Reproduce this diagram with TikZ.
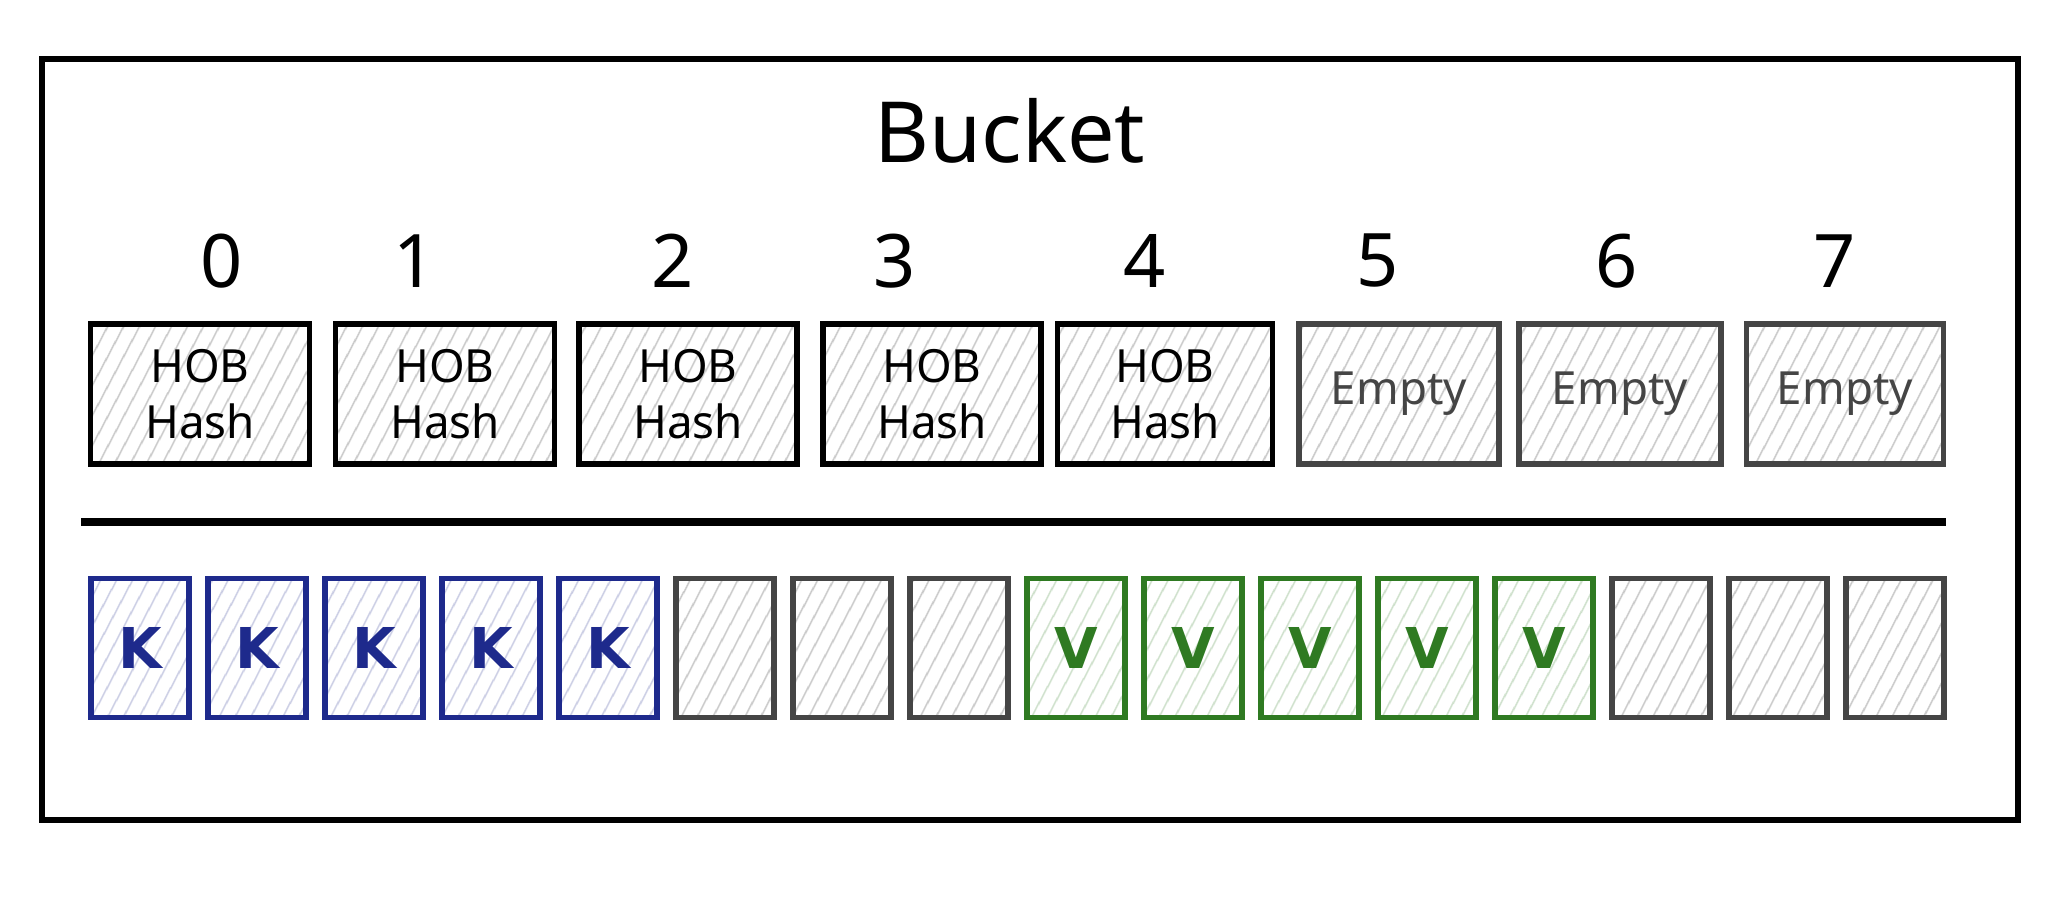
\documentclass[tikz,border=0pt]{standalone}
\usepackage{fontspec}
\setmainfont{Noto Sans}
\newfontfamily\cellfont{DejaVu Sans}
\usetikzlibrary{patterns.meta,positioning}

\definecolor{keyblue}{HTML}{1E2A8C}
\definecolor{valgreen}{HTML}{2F7A22}
\definecolor{emptygray}{HTML}{454545}

\tikzset{
  hatched/.style={pattern={Lines[angle=62,distance=4pt,line width=0.55pt]},pattern color=#1},
  hatched/.default=gray!45,
  slotbox/.style={draw, line width=1.6pt, minimum height=1.4cm, align=center,
    inner sep=0pt, font=\fontsize{13}{16}\selectfont},
  cellbox/.style={draw, line width=1.6pt, minimum width=0.98cm, minimum height=1.39cm,
    inner sep=0pt, font=\cellfont\bfseries\fontsize{16}{16}\selectfont},
  digit/.style={font=\fontsize{21}{21}\selectfont},
  title/.style={font=\fontsize{24}{24}\selectfont}
}

\begin{document}
\begin{tikzpicture}[x=0.01cm,y=-0.01cm]
  \useasboundingbox (0,0) rectangle (2048,918);

  % outer frame and title
  \draw[line width=1.9pt] (42,59) rectangle (2018,820);
  \node[title] (bucket) at (1010,131) {Bucket};

  % bucket slots
  \foreach \i/\cx/\bw in {0/200/2.19cm,1/445/2.19cm,2/688/2.18cm,3/932/2.18cm,4/1165/2.15cm}
    \node[slotbox, hatched, minimum width=\bw] (slot\i) at (\cx,394) {HOB\\Hash};
  \foreach \i/\cx/\bw in {5/1399/2.00cm,6/1620/2.02cm,7/1845/1.97cm}
    \node[slotbox, hatched, draw=emptygray, text=emptygray, minimum width=\bw] (slot\i) at (\cx,394) {Empty};

  % slot numbers
  \foreach \i/\dx in {0/222,1/415,2/673,3/895,4/1145,5/1378,6/1617,7/1835}
    \node[digit] (num\i) at (\dx,261) {\i};

  \draw[line width=2pt] (81,522) -- (1946,522);

  % keys and values
  \foreach \i in {0,...,4}
    \node[cellbox, draw=keyblue, text=keyblue, hatched=keyblue!25] (key\i) at (140+117*\i,648) {K};
  \foreach \i in {5,6,7,13,14,15}
    \node[cellbox, draw=emptygray, hatched] (pad\i) at (140+117*\i,648) {};
  \foreach \i in {8,...,12}
    \node[cellbox, draw=valgreen, text=valgreen, hatched=valgreen!25] (val\i) at (140+117*\i,648) {V};
\end{tikzpicture}
\end{document}
